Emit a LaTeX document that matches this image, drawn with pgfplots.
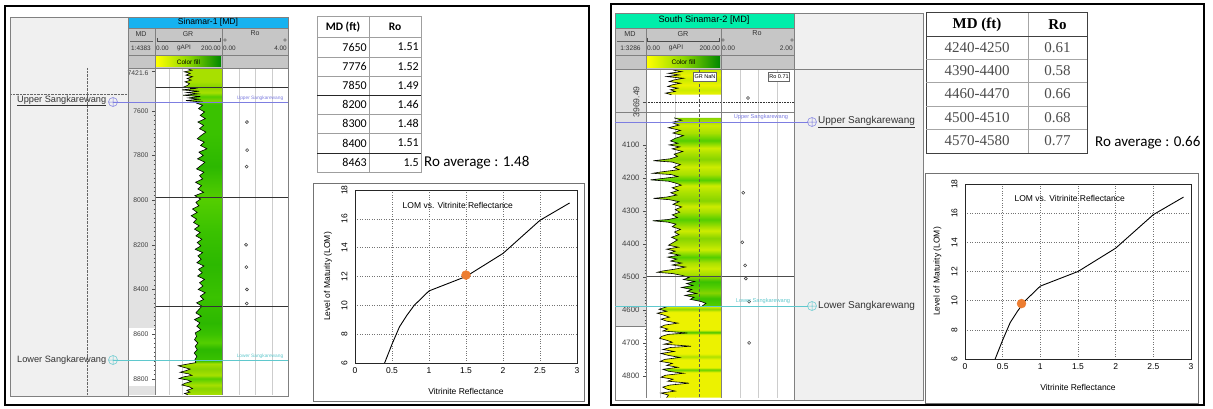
\documentclass[border=0pt]{standalone}
\usepackage{pgfplots}
\usepackage{pgfplotstable}
\pgfplotsset{compat=1.18}
\usepackage{fontspec}
\setmainfont{Liberation Sans}
\newfontfamily\calibri{Carlito}
\newfontfamily\tnr{Liberation Serif}
\newcommand{\fs}[1]{\fontsize{#1}{#1}\selectfont}

\definecolor{sinblue}{RGB}{22,178,240}
\definecolor{ssgreen}{RGB}{0,238,170}
\definecolor{hdrgray}{RGB}{198,198,198}
\definecolor{panelgray}{RGB}{240,240,240}
\definecolor{mdgray}{RGB}{226,226,226}
\definecolor{gridgray}{RGB}{205,205,205}
\definecolor{uppercol}{RGB}{125,125,225}
\definecolor{lowercol}{RGB}{95,200,205}
\definecolor{dotorange}{RGB}{237,125,49}
\definecolor{yg1}{RGB}{168,224,0}
\definecolor{yg2}{RGB}{135,212,0}
\definecolor{yg3}{RGB}{205,236,0}
\definecolor{ylw}{RGB}{236,242,0}
\definecolor{g1}{RGB}{58,194,0}
\definecolor{g2}{RGB}{44,184,0}
\definecolor{g3}{RGB}{84,206,0}
\definecolor{gD}{RGB}{36,170,0}

\pgfdeclareverticalshading{sinA}{100bp}{color(0bp)=(yg1); color(25bp)=(yg1); color(26bp)=(yg2); color(26.5bp)=(yg1); color(27.5bp)=(g3); color(28bp)=(yg1); color(29bp)=(yg2); color(29.8bp)=(yg1); color(30.2bp)=(g1); color(32bp)=(g2); color(33bp)=(g3); color(34.3bp)=(g1); color(36bp)=(g2); color(40bp)=(g1); color(45bp)=(g2); color(50bp)=(g1); color(55bp)=(g3); color(60bp)=(g2); color(65bp)=(g1); color(69.6bp)=(g1); color(70bp)=(yg2); color(70.7bp)=(g3); color(71.3bp)=(yg1); color(72.2bp)=(yg2); color(73bp)=(yg1); color(100bp)=(yg1)}
\pgfdeclareverticalshading{ssTop}{100bp}{color(0bp)=(ylw); color(25bp)=(ylw); color(35bp)=(yg3); color(45bp)=(ylw); color(55bp)=(yg3); color(65bp)=(ylw); color(75bp)=(yg3); color(100bp)=(yg3)}
\pgfdeclareverticalshading{ssMain}{100bp}{color(0bp)=(g3); color(25bp)=(g3); color(27bp)=(g1); color(28.5bp)=(yg2); color(30bp)=(g3); color(31.5bp)=(g1); color(32.7bp)=(yg2); color(33.5bp)=(yg1); color(35bp)=(yg3); color(36.5bp)=(yg1); color(38bp)=(g3); color(40bp)=(yg3); color(41.5bp)=(yg1); color(43bp)=(yg2); color(45bp)=(yg3); color(46bp)=(yg1); color(48bp)=(g3); color(50bp)=(yg1); color(51.5bp)=(yg3); color(53bp)=(yg2); color(55bp)=(yg1); color(57bp)=(yg3); color(58.5bp)=(g3); color(60bp)=(yg1); color(62bp)=(yg3); color(64bp)=(yg2); color(65.5bp)=(yg1); color(67bp)=(yg3); color(69bp)=(g3); color(71bp)=(yg1); color(73bp)=(yg3); color(75bp)=(yg2); color(100bp)=(yg2)}
\pgfdeclareverticalshading{ssBot}{100bp}{color(0bp)=(ylw); color(25bp)=(ylw); color(39bp)=(ylw); color(40.2bp)=(g3); color(41.5bp)=(ylw); color(46bp)=(ylw); color(47.4bp)=(yg1); color(49bp)=(ylw); color(59.5bp)=(ylw); color(60.8bp)=(g1); color(62bp)=(ylw); color(72bp)=(ylw); color(73.5bp)=(yg2); color(75bp)=(ylw); color(100bp)=(ylw)}

% ---------- Sinamar-1 GR ----------
\pgfplotstableread{
d gr
7410 95
7418 110
7425 88
7432 105
7440 92
7447 112
7455 96
7462 108
7470 90
7478 103
7486 97
7494 85
7500 120
7506 80
7512 132
7518 95
7524 128
7530 84
7536 135
7542 100
7548 130
7554 92
7560 138
7566 125
7575 142
7590 130
7605 148
7620 135
7635 150
7650 128
7665 145
7680 133
7695 152
7710 138
7725 126
7740 147
7755 136
7770 155
7785 131
7800 144
7815 127
7830 149
7845 137
7860 124
7875 146
7890 133
7905 142
7920 121
7935 139
7950 128
7965 145
7980 119
7995 136
8010 122
8025 131
8040 112
8055 126
8070 108
8085 124
8100 115
8115 132
8130 118
8145 135
8160 122
8175 140
8190 126
8205 137
8220 120
8235 142
8250 128
8265 138
8280 125
8295 146
8310 130
8325 141
8340 127
8355 148
8370 133
8385 143
8400 129
8415 150
8430 135
8445 145
8460 124
8475 140
8490 131
8505 122
8520 138
8535 118
8550 134
8565 125
8580 137
8595 120
8610 124
8625 118
8640 128
8655 120
8670 126
8685 117
8700 125
8715 119
8728 122
8735 95
8742 70
8750 88
8757 105
8764 92
8771 75
8778 100
8785 110
8792 85
8799 72
8806 98
8813 108
8820 90
8828 80
8836 102
8844 112
8852 95
8860 104
8866 88
8872 98
}\grA

\pgfplotstableread{
d ro
7650 1.51
7776 1.52
7850 1.49
8200 1.46
8300 1.48
8400 1.51
8463 1.50
}\roA

% ---------- South Sinamar-2 GR ----------
\pgfplotstableread{
d gr
3873 72
3878 95
3883 60
3888 88
3893 55
3898 100
3903 75
3908 62
3913 92
3918 70
3923 58
3928 85
3933 65
3938 78
3943 52
3948 68
}\grBtop

\pgfplotstableread{
d gr
4018 75
4025 95
4032 68
4040 88
4048 60
4056 92
4064 72
4072 100
4080 78
4088 65
4095 85
4100 62
4106 90
4112 70
4120 98
4128 75
4135 84
4142 65
4148 20
4152 70
4160 92
4168 74
4175 88
4182 40
4186 18
4190 68
4196 85
4202 42
4206 12
4210 60
4216 80
4222 94
4230 70
4238 86
4245 66
4252 82
4258 55
4262 20
4266 62
4272 88
4280 72
4288 95
4296 78
4304 90
4312 70
4320 84
4326 60
4330 18
4334 58
4340 80
4348 70
4356 92
4364 76
4372 88
4380 68
4388 84
4396 72
4404 60
4410 86
4416 55
4422 78
4428 62
4434 90
4440 58
4446 82
4452 66
4458 95
4464 70
4470 105
4476 80
4482 45
4486 30
4490 72
4496 98
4502 115
4508 100
4514 130
4520 108
4526 125
4532 95
4538 122
4544 110
4550 135
4556 104
4562 128
4568 118
4574 145
4580 160
4588 150
}\grBmain

\pgfplotstableread{
d gr
4589 60
4598 35
4604 55
4610 30
4616 48
4622 62
4628 40
4634 55
4640 85
4646 50
4652 38
4658 58
4664 45
4670 110
4674 60
4680 42
4686 36
4692 55
4698 70
4704 48
4710 120
4714 65
4720 45
4726 75
4732 40
4738 60
4744 90
4750 50
4756 38
4762 70
4768 55
4774 85
4780 45
4786 60
4792 100
4798 52
4804 40
4810 72
4816 58
4822 115
4828 62
4834 45
4840 55
4846 78
4852 40
4858 60
4866 55
}\grBbot

\pgfplotstableread{
d ro
3958 0.74
4245 0.61
4395 0.58
4465 0.66
4505 0.68
4575 0.77
4700 0.77
}\roB

% ---------- LOM vs Ro ----------
\pgfplotstableread{
ro lom
0.4 6
0.5 7.3
0.6 8.5
0.7 9.3
0.8 10
0.9 10.5
1.0 11
1.5 12
2.0 13.6
2.5 15.9
2.9 17.1
}\lom

\pgfplotsset{
  lomstyle/.style={scale only axis, xmin=0, xmax=3, ymin=6, ymax=18,
    xtick={0,0.5,1,1.5,2,2.5,3}, ytick={6,8,10,12,14,16,18},
    grid=major, grid style={dotted, black!55, line width=0.6pt},
    axis line style={black!85, line width=0.9pt},
    major tick length=0pt,
    tick label style={font=\fs{8.5}},
    yticklabel style={rotate=90, anchor=south},
    yticklabel shift=4pt, xticklabel shift=1pt,
    xlabel={Vitrinite Reflectance}, ylabel={Level of Maturity (LOM)},
    label style={font=\fs{8.5}},
    xlabel style={at={(axis description cs:0.5,-0.165)}, anchor=center},
    ylabel style={at={(axis description cs:-0.122,0.5)}, anchor=center},
    /pgf/number format/assume math mode=true},
  grstyle/.style={scale only axis, xmin=0, xmax=200, y dir=reverse,
    axis line style={draw=none}, xtick=\empty,
    ytick pos=left, tick align=outside, minor y tick num=9,
    major tick length=3pt, minor tick length=1.5pt,
    tick style={black!70, line width=0.4pt},
    /pgf/number format/assume math mode=true,
    /pgf/number format/1000 sep={}}
}
\tikzset{P/.style={x=1pt,y=1pt}}

\begin{document}
\begin{tikzpicture}
\begin{scope}[P]
\fill[white] (0,0) rectangle (1213,408);
% ================= LEFT PANEL =================
\draw[line width=2pt] (5,408-6) rectangle (589,408-405);
\fill[panelgray] (10,408-17) rectangle (128,408-396);
\fill[sinblue] (128,408-17) rectangle (288,408-28);
\fill[hdrgray] (128,408-28) rectangle (288,408-68);
\fill[mdgray] (128,408-68) rectangle (155,408-395);
\fill[white] (128,408-328) rectangle (155,408-386);
\fill[white] (155,408-68) rectangle (288,408-395);
\draw[densely dotted, black!60] (87,408-68) -- (87,408-396);
\draw[densely dotted, black!60] (10,408-94) -- (128,408-94);
\foreach \x in {169,182,239,255,272} \draw[gridgray, line width=0.6pt] (\x,408-68) -- (\x,408-395);
\end{scope}

\begin{axis}[grstyle, at={(155pt,13pt)}, anchor=south west, width=67pt, height=327pt,
  ymin=7408, ymax=8873, ytick={7600,7800,8000,8200,8400,8600,8800},
  extra y ticks={7421.6}, extra y tick labels={7421.6},
  extra y tick style={yticklabel style={yshift=-2.5pt}},
  yticklabel style={font=\fs{6.8}, text=black!75}]
\addplot[draw=none, shade, shading=sinA] table[x=gr,y=d] {\grA} -- (axis cs:200,8872) -- (axis cs:200,7410) -- cycle;
\addplot[black, line width=0.6pt] table[x=gr,y=d] {\grA};
\end{axis}
\begin{axis}[scale only axis, hide axis, at={(222pt,13pt)}, anchor=south west, width=66pt, height=327pt,
  xmin=0, xmax=4, ymin=7408, ymax=8873, y dir=reverse]
\addplot[only marks, mark=o, mark size=1.5pt, black!75, mark options={line width=0.6pt}] table[x=ro,y=d] {\roA};
\end{axis}

\begin{scope}[P]
\foreach \y in {87,197,306} \draw[black!80, line width=0.6pt] (155,408-\y) -- (288,408-\y);
\draw[black!50] (128,408-28) -- (288,408-28);
\draw[black!50] (128,408-55) -- (288,408-55);
\draw[black!50] (128,408-68) -- (288,408-68);
\draw[black!50] (155,408-28) -- (155,408-395);
\draw[black!50] (222,408-28) -- (222,408-395);
\draw[black!50] (10,408-17) rectangle (288,408-396);
\draw[black!50] (128,408-17) -- (128,408-396);
\node[font=\fs{8.6}] at (208,408-22.5) {Sinamar-1 [MD]};
\node[font=\fs{7}, text=black!80] at (141,408-34) {MD};
\node[font=\fs{7}, text=black!80] at (188,408-34) {GR};
\node[font=\fs{7}, text=black!80] at (255,408-33) {Ro};
\draw[black!70, line width=0.4pt] (157,408-38) -- (157,408-41) -- (220,408-41) -- (220,408-38);
\draw[black!60, line width=0.4pt] (130,408-41) -- (153,408-41);
\draw[black!70, line width=0.4pt] (225,408-40) circle (1.3);
\draw[black!70, line width=0.4pt] (285,408-40) circle (1.3);
\node[font=\fs{6.4}, text=black!80] at (141,408-48) {1:4383};
\node[font=\fs{6.4}, text=black!80, anchor=west, inner sep=0.5pt] at (155.5,408-48) {0.00};
\node[font=\fs{6.4}, text=black!80] at (184,408-48) {gAPI};
\node[font=\fs{6.4}, text=black!80, anchor=east, inner sep=0.5pt] at (221.5,408-48) {200.00};
\node[font=\fs{6.4}, text=black!80, anchor=west, inner sep=0.5pt] at (222.5,408-48) {0.00};
\node[font=\fs{6.4}, text=black!80, anchor=east, inner sep=0.5pt] at (287.5,408-48) {4.00};
\shade[left color=yellow, right color={rgb,255:red,0;green,135;blue,0}, middle color={rgb,255:red,140;green,215;blue,0}] (156,408-57) rectangle (221,408-67);
\node[font=\fs{6.4}] at (188.5,408-62) {Color fill};
\draw[uppercol, line width=0.7pt] (113,408-102) -- (288,408-102);
\draw[uppercol, line width=0.5pt] (113,408-102) circle (4.5) (108.5,408-102) -- (117.5,408-102) (113,408-97.5) -- (113,408-106.5);
\node[font=\fs{9.2}, text=black!80, anchor=west, inner sep=0pt] at (17,408-101) {\underline{Upper Sangkarewang}};
\node[font=\fs{4.8}, text=uppercol] at (260,408-98.5) {Upper Sangkarewang};
\draw[lowercol, line width=0.7pt] (113,408-360) -- (288,408-360);
\draw[lowercol, line width=0.5pt] (113,408-360) circle (4.5) (108.5,408-360) -- (117.5,408-360) (113,408-355.5) -- (113,408-364.5);
\node[font=\fs{9.2}, text=black!80, anchor=west, inner sep=0pt] at (17,408-360) {Lower Sangkarewang};
\node[font=\fs{4.8}, text=lowercol] at (260,408-356.5) {Lower Sangkarewang};
% left table
\draw[gray!75, line width=0.5pt] (317,408-16) rectangle (421,408-172);
\draw[gray!75] (369,408-16) -- (369,408-172);
\foreach \y in {37,57,76,114,133} \draw[gray!75] (317,408-\y) -- (421,408-\y);
\foreach \y in {95,153} \draw[black!85, line width=0.7pt] (317,408-\y) -- (421,408-\y);
\node[font=\calibri\bfseries\fs{11.5}] at (343,408-27) {MD (ft)};
\node[font=\calibri\bfseries\fs{11.5}] at (395,408-27) {Ro};
\foreach \yy/\md/\ro in {47/7650/1.51, 66.5/7776/1.52, 85.5/7850/1.49, 104.5/8200/1.46, 123.5/8300/1.48, 143/8400/1.51, 162.5/8463/1.5}{
  \node[font=\calibri\fs{12}, anchor=east, inner sep=1pt] at (368,408-\yy) {\md};
  \node[font=\calibri\fs{12}, anchor=east, inner sep=1pt] at (420,408-\yy) {\ro};
}
\node[font=\calibri\fs{15}, anchor=west, inner sep=0pt] at (424,408-163) {Ro average : 1.48};
\draw[black!55, line width=0.6pt] (313,408-183) rectangle (584,408-401);
\end{scope}

\begin{axis}[lomstyle, at={(355pt,45pt)}, anchor=south west, width=222pt, height=173pt]
\addplot[black, line width=0.9pt] table[x=ro,y=lom] {\lom};
\addplot[only marks, mark=*, mark size=4.5pt, dotorange, mark options={draw=dotorange}] coordinates {(1.5,12.1)};
\node[font=\fs{8.5}] at (axis cs:1.39,16.9) {LOM vs. Vitrinite Reflectance};
\end{axis}

\begin{scope}[P]
% ================= RIGHT PANEL =================
\draw[line width=2pt] (611,408-4) rectangle (1204,408-405);
\fill[panelgray] (794,408-13) rectangle (923,408-400);
\fill[ssgreen] (615,408-13) rectangle (794,408-28);
\fill[hdrgray] (615,408-28) rectangle (794,408-69);
\fill[mdgray] (615,408-69) rectangle (646,408-326);
\fill[white] (615,408-326) rectangle (646,408-398);
\fill[white] (646,408-69) rectangle (794,408-398);
\foreach \x in {660,675,740,758,777} \draw[gridgray, line width=0.6pt] (\x,408-69) -- (\x,408-398);
\end{scope}

\begin{axis}[grstyle, at={(646pt,10pt)}, anchor=south west, width=75pt, height=329pt,
  ymin=3870, ymax=4867, ytick={4100,4200,4300,4400,4500,4600,4700,4800},
  extra y ticks={3969.49}, extra y tick labels={3969.49},
  extra y tick style={yticklabel style={rotate=90, anchor=south, font=\fs{8.6}}},
  yticklabel style={font=\fs{7.8}, text=black!75}]
\addplot[draw=none, shade, shading=ssTop] table[x=gr,y=d] {\grBtop} -- (axis cs:200,3948) -- (axis cs:200,3873) -- cycle;
\addplot[draw=none, shade, shading=ssMain] table[x=gr,y=d] {\grBmain} -- (axis cs:200,4588) -- (axis cs:200,4018) -- cycle;
\addplot[draw=none, shade, shading=ssBot] table[x=gr,y=d] {\grBbot} -- (axis cs:200,4866) -- (axis cs:200,4589) -- cycle;
\addplot[black, line width=0.6pt] table[x=gr,y=d] {\grBtop};
\addplot[black, line width=0.6pt] table[x=gr,y=d] {\grBmain};
\addplot[black, line width=0.6pt] table[x=gr,y=d] {\grBbot};
\end{axis}
\begin{axis}[scale only axis, hide axis, at={(721pt,10pt)}, anchor=south west, width=73pt, height=329pt,
  xmin=0, xmax=2, ymin=3870, ymax=4867, y dir=reverse]
\addplot[only marks, mark=o, mark size=1.5pt, black!75, mark options={line width=0.6pt}] table[x=ro,y=d] {\roB};
\end{axis}

\begin{scope}[P]
\draw[black!65, densely dashed, line width=0.5pt] (699,408-69) -- (699,408-398);
\draw[black!80, densely dotted, line width=0.6pt] (646,408-102) -- (794,408-102);
\draw[black!50] (615,408-112) -- (794,408-112);
\draw[black!70, line width=0.6pt] (646,408-276) -- (794,408-276);
\draw[black!50] (615,408-326) -- (646,408-326);
\draw[black!50] (615,408-28) -- (794,408-28);
\draw[black!50] (615,408-55) -- (794,408-55);
\draw[black!50] (615,408-69) -- (923,408-69);
\draw[black!50] (646,408-28) -- (646,408-398);
\draw[black!50] (721,408-28) -- (721,408-398);
\draw[black!50] (615,408-13) rectangle (923,408-400);
\draw[black!50] (794,408-13) -- (794,408-400);
\node[font=\fs{9.2}] at (704,408-20.5) {South Sinamar-2 [MD]};
\node[font=\fs{7.2}, text=black!80] at (630,408-34) {MD};
\node[font=\fs{7.2}, text=black!80] at (683,408-34) {GR};
\node[font=\fs{7.2}, text=black!80] at (757,408-33) {Ro};
\draw[black!70, line width=0.4pt] (647,408-38) -- (647,408-41) -- (719,408-41) -- (719,408-38);
\draw[black!60, line width=0.4pt] (617,408-41) -- (644,408-41);
\draw[black!70, line width=0.4pt] (723,408-40) circle (1.3);
\draw[black!70, line width=0.4pt] (792,408-40) circle (1.3);
\node[font=\fs{6.6}, text=black!80] at (630.5,408-48) {1:3286};
\node[font=\fs{6.6}, text=black!80, anchor=west, inner sep=0.5pt] at (646.5,408-48) {0.00};
\node[font=\fs{6.6}, text=black!80] at (676,408-48) {gAPI};
\node[font=\fs{6.6}, text=black!80, anchor=east, inner sep=0.5pt] at (720.5,408-48) {200.00};
\node[font=\fs{6.6}, text=black!80, anchor=west, inner sep=0.5pt] at (721.5,408-48) {0.00};
\node[font=\fs{6.6}, text=black!80, anchor=east, inner sep=0.5pt] at (793.5,408-48) {2.00};
\shade[left color=yellow, right color={rgb,255:red,0;green,135;blue,0}, middle color={rgb,255:red,140;green,215;blue,0}] (647,408-57) rectangle (720,408-68);
\node[font=\fs{6.6}] at (683.5,408-62.5) {Color fill};
\node[draw=black!60, fill=white, font=\fs{5.5}, inner sep=1pt, minimum height=9pt] at (705,408-77) {GR NaN};
\node[draw=black!60, fill=white, font=\fs{5.5}, inner sep=1pt, minimum height=9pt] at (779,408-77) {Ro 0.71};
\draw[uppercol, line width=0.7pt] (615,408-122) -- (807.5,408-122);
\draw[uppercol, line width=0.5pt] (812,408-122) circle (4.5) (807.5,408-122) -- (816.5,408-122) (812,408-117.5) -- (812,408-126.5);
\node[font=\fs{10}, text=black!80, anchor=west, inner sep=0pt] at (818,408-122) {\underline{Upper Sangkarewang}};
\node[font=\fs{5.6}, text=uppercol] at (761,408-117) {Upper Sangkarewang};
\draw[lowercol, line width=0.7pt] (615,408-306) -- (807.5,408-306);
\draw[lowercol, line width=0.5pt] (812,408-306) circle (4.5) (807.5,408-306) -- (816.5,408-306) (812,408-301.5) -- (812,408-310.5);
\node[font=\fs{10}, text=black!80, anchor=west, inner sep=0pt] at (818,408-306) {Lower Sangkarewang};
\node[font=\fs{5.6}, text=lowercol] at (763,408-301.5) {Lower Sangkarewang};
% right table
\draw[black!75, line width=1pt] (926,408-13) rectangle (1087,408-153);
\draw[gray!70] (1028,408-13) -- (1028,408-153);
\draw[black!75, line width=0.8pt] (926,408-36) -- (1087,408-36);
\foreach \y in {59,82,106,129} \draw[gray!70] (926,408-\y) -- (1087,408-\y);
\node[font=\tnr\bfseries\fs{15}] at (977,408-24.5) {MD (ft)};
\node[font=\tnr\bfseries\fs{15}] at (1057.5,408-24.5) {Ro};
\foreach \yy/\md/\ro in {47.5/4240-4250/0.61, 70.5/4390-4400/0.58, 94/4460-4470/0.66, 117.5/4500-4510/0.68, 141/4570-4580/0.77}{
  \node[font=\tnr\fs{15}, text=black!70] at (977,408-\yy) {\md};
  \node[font=\tnr\fs{15}, text=black!70] at (1057.5,408-\yy) {\ro};
}
\node[font=\calibri\fs{15}, anchor=west, inner sep=0pt] at (1095,408-143) {Ro average : 0.66};
\draw[black!55, line width=0.6pt] (925,408-173) rectangle (1198,408-403);
\end{scope}

\begin{axis}[lomstyle, at={(965pt,49pt)}, anchor=south west, width=226pt, height=175pt]
\addplot[black, line width=0.9pt] table[x=ro,y=lom] {\lom};
\addplot[only marks, mark=*, mark size=4.5pt, dotorange, mark options={draw=dotorange}] coordinates {(0.75,9.8)};
\node[font=\fs{8.5}] at (axis cs:1.39,17.0) {LOM vs. Vitrinite Reflectance};
\end{axis}

\pgfresetboundingbox
\path[use as bounding box] (0pt,0pt) rectangle (1213pt,408pt);
\end{tikzpicture}
\end{document}
